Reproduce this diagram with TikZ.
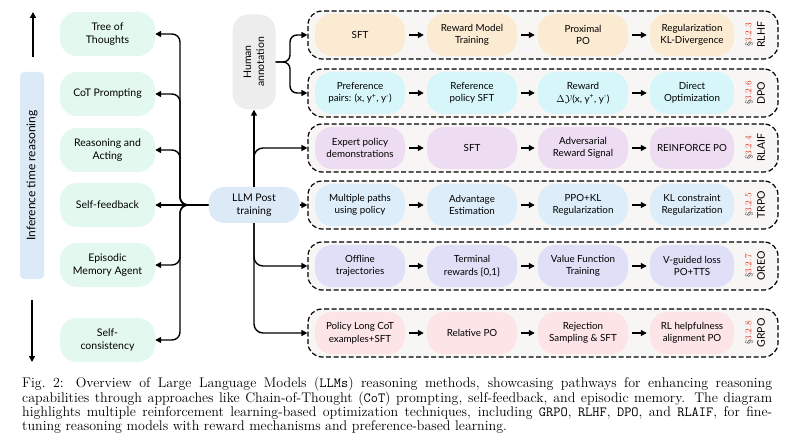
\documentclass[tikz,border=0pt]{standalone}
\usepackage{fontspec}
\newfontfamily\lato{Lato}
\usetikzlibrary{arrows.meta}
\definecolor{mint}{HTML}{E3F8EE}
\definecolor{infoblue}{HTML}{DCEAF8}
\definecolor{llmblue}{HTML}{DCE9F7}
\definecolor{humgray}{HTML}{EDEDED}
\definecolor{rowbg}{HTML}{F8F6F4}
\definecolor{cpeach}{HTML}{FCEBD3}
\definecolor{ccyan}{HTML}{D6F6FA}
\definecolor{cpurple}{HTML}{EEDDF2}
\definecolor{clblue}{HTML}{DDEEFA}
\definecolor{clav}{HTML}{DFDFF7}
\definecolor{cpink}{HTML}{FCE4E7}
\definecolor{secred}{HTML}{E0301E}
\begin{document}
\begin{tikzpicture}[x=1pt,y=-1pt,
  leftnode/.style={fill=mint, rounded corners=17pt, minimum width=95pt, minimum height=44pt, align=center, inner sep=1pt, font=\lato\fontsize{10.5}{13}\selectfont},
  rownode/.style={rounded corners=17pt, minimum width=90pt, minimum height=42pt, align=center, inner sep=1pt, font=\lato\fontsize{9.8}{12.5}\selectfont},
  rowbox/.style={draw, dash pattern=on 5pt off 2.5pt, line width=1.2pt, rounded corners=14pt, fill=rowbg, minimum width=470pt, minimum height=48pt, inner sep=0pt},
  arr/.style={-{Triangle[length=6pt,width=6pt]}, line width=1.4pt},
  seclab/.style={rotate=90, text=secred, font=\fontsize{9}{10}\selectfont, inner sep=0pt},
  namelab/.style={rotate=90, font=\lato\fontsize{10.5}{12}\selectfont, inner sep=0pt}
]
\useasboundingbox (0,0) rectangle (800,446);

% left column
\node[fill=infoblue, rounded corners=4pt, minimum width=24pt, minimum height=207pt, inner sep=0pt] (infbox) at (32,175.5) {};
\node[rotate=90, font=\lato\fontsize{12}{14}\selectfont, inner sep=0pt] (inftext) at (infbox.center) {Inference time reasoning};
\coordinate (upa) at (33,57);
\coordinate (upb) at (33,12);
\coordinate (dna) at (32,300);
\coordinate (dnb) at (32,362);
\draw[arr] (upa) -- (upb);
\draw[arr] (dna) -- (dnb);

\node[leftnode] (tot) at (107.5,34) {Tree of\\Thoughts};
\node[leftnode] (cot) at (107.5,94) {CoT Prompting};
\node[leftnode] (rea) at (107.5,150) {Reasoning and\\Acting};
\node[leftnode] (sfb) at (107.5,205) {Self-feedback};
\node[leftnode] (epi) at (107.5,265) {Episodic\\Memory Agent};
\node[leftnode] (sco) at (107.5,340) {Self-\\consistency};

% centre
\node[fill=llmblue, rounded corners=16pt, minimum width=91pt, minimum height=36pt, align=center, inner sep=1pt, font=\lato\fontsize{10.5}{13}\selectfont] (llm) at (254,205) {LLM Post\\training};
\node[fill=humgray, rounded corners=16pt, minimum width=43pt, minimum height=95pt, inner sep=0pt] (human) at (254,62) {};
\node[rotate=90, align=center, font=\lato\fontsize{10.5}{13}\selectfont, inner sep=0pt] (humtext) at (human.center) {Human\\annotation};

% rows
\node[rowbox] (r1) at (543,35) {};
\node[rowbox] (r2) at (543,93) {};
\node[rowbox] (r3) at (543,148) {};
\node[rowbox] (r4) at (543,205) {};
\node[rowbox] (r5) at (543,266) {};
\node[rowbox] (r6) at (543,333) {};

% RLHF
\node[rownode, fill=cpeach] (a1) at (360,35) {SFT};
\node[rownode, fill=cpeach] (a2) at (472,35) {Reward Model\\Training};
\node[rownode, fill=cpeach] (a3) at (583,35) {Proximal\\PO};
\node[rownode, fill=cpeach, minimum width=84pt] (a4) at (692,35) {Regularization\\KL-Divergence};
% DPO
\node[rownode, fill=ccyan] (b1) at (360,93) {Preference\\pairs: (x, y\textsuperscript{+}, y\textsuperscript{-})};
\node[rownode, fill=ccyan] (b2) at (472,93) {Reference\\policy SFT};
\node[rownode, fill=ccyan] (b3) at (583,93) {Reward\\$\Delta\mathcal{Y}$(x, y\textsuperscript{+}, y\textsuperscript{-})};
\node[rownode, fill=ccyan, minimum width=84pt] (b4) at (692,93) {Direct\\Optimization};
% RLAIF
\node[rownode, fill=cpurple] (c1) at (360,148) {Expert policy\\demonstrations};
\node[rownode, fill=cpurple] (c2) at (472,148) {SFT};
\node[rownode, fill=cpurple] (c3) at (583,148) {Adversarial\\Reward Signal};
\node[rownode, fill=cpurple, minimum width=84pt] (c4) at (692,148) {REINFORCE PO};
% TRPO
\node[rownode, fill=clblue] (d1) at (360,205) {Multiple paths\\using policy};
\node[rownode, fill=clblue] (d2) at (472,205) {Advantage\\Estimation};
\node[rownode, fill=clblue] (d3) at (583,205) {PPO+KL\\Regularization};
\node[rownode, fill=clblue, minimum width=84pt] (d4) at (692,205) {KL constraint\\Regularization};
% OREO
\node[rownode, fill=clav] (e1) at (360,266) {Offline\\trajectories};
\node[rownode, fill=clav] (e2) at (472,266) {Terminal\\rewards \{0,1\}};
\node[rownode, fill=clav] (e3) at (583,266) {Value Function\\Training};
\node[rownode, fill=clav, minimum width=84pt] (e4) at (692,266) {V-guided loss\\PO+TTS};
% GRPO
\node[rownode, fill=cpink] (f1) at (360,333) {Policy Long CoT\\examples+SFT};
\node[rownode, fill=cpink] (f2) at (472,333) {Relative PO};
\node[rownode, fill=cpink] (f3) at (583,333) {Rejection\\Sampling \& SFT};
\node[rownode, fill=cpink, minimum width=84pt] (f4) at (692,333) {RL helpfulness\\alignment PO};

\foreach \r in {a,b,c,d,e,f}{
  \draw[arr, shorten <=4pt, shorten >=3pt] (\r1.east) -- (\r2.west);
  \draw[arr, shorten <=4pt, shorten >=3pt] (\r2.east) -- (\r3.west);
  \draw[arr, shorten <=4pt, shorten >=3pt] (\r3.east) -- (\r4.west);
}

% row labels
\node[seclab] (s1) at (749,35) {{\color{black!70}\S}3.2.3};
\node[namelab] (n1) at (761,35) {RLHF};
\node[seclab] (s2) at (749,93) {{\color{black!70}\S}3.2.6};
\node[namelab] (n2) at (761,93) {DPO};
\node[seclab] (s3) at (749,148) {{\color{black!70}\S}3.2.4};
\node[namelab] (n3) at (761,148) {RLAIF};
\node[seclab] (s4) at (749,205) {{\color{black!70}\S}3.2.5};
\node[namelab] (n4) at (761,205) {TRPO};
\node[seclab] (s5) at (749,266) {{\color{black!70}\S}3.2.7};
\node[namelab] (n5) at (761,266) {OREO};
\node[seclab] (s6) at (749,333) {{\color{black!70}\S}3.2.8};
\node[namelab] (n6) at (761,333) {GRPO};

% left connectors
\coordinate (bj) at (180,205);
\draw[arr, rounded corners=8pt] (llm.west) -- (bj) |- (tot.east);
\draw[arr, rounded corners=8pt] (llm.west) -- (bj) |- (cot.east);
\draw[arr, rounded corners=8pt] (llm.west) -- (bj) |- (rea.east);
\draw[arr] (llm.west) -- (sfb.east);
\draw[arr, rounded corners=8pt] (llm.west) -- (bj) |- (epi.east);
\draw[arr, rounded corners=8pt] (llm.west) -- (bj) |- (sco.east);

% right connectors
\draw[arr] (llm.north) -- (human.south);
\draw[arr, rounded corners=9pt] (llm.north) |- (r3.west);
\draw[arr] (llm.east) -- (r4.west);
\draw[arr, rounded corners=9pt] (llm.south) |- (r5.west);
\draw[arr, rounded corners=9pt] (llm.south) |- (r6.west);
\coordinate (hj) at (290,62);
\draw[arr, rounded corners=7pt] (human.east) -- (hj) |- (r1.west);
\draw[arr, rounded corners=7pt] (human.east) -- (hj) |- (r2.west);

% caption
\node[anchor=north west, inner sep=0pt, text width=750pt, align=justify, font=\fontsize{14}{14.4}\selectfont] (cap) at (22,377) {Fig.~2: Overview of Large Language Models (\texttt{LLMs}) reasoning methods, showcasing pathways for enhancing reasoning\linebreak capabilities through approaches like Chain-of-Thought (\texttt{CoT}) prompting, self-feedback, and episodic memory. The diagram\linebreak highlights multiple reinforcement learning-based optimization techniques, including \texttt{GRPO}, \texttt{RLHF}, \texttt{DPO}, and \texttt{RLAIF}, for fine-\linebreak tuning reasoning models with reward mechanisms and preference-based learning.};
\end{tikzpicture}
\end{document}
